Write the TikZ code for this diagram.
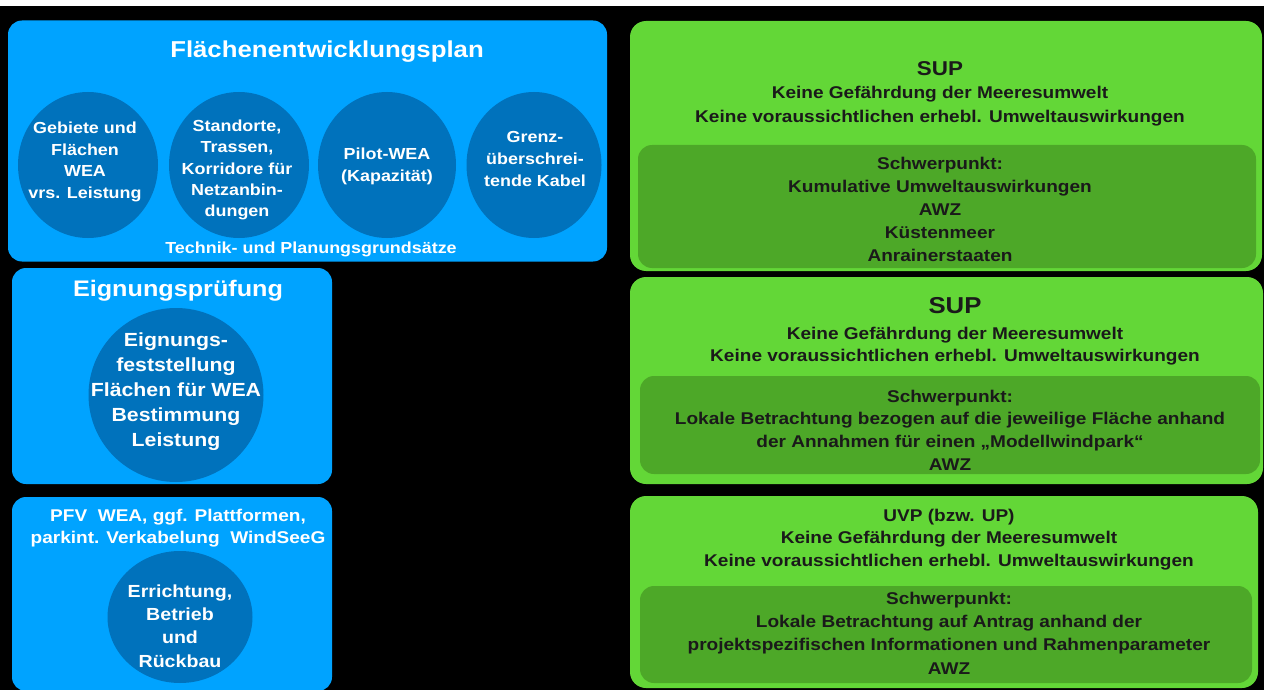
\documentclass[tikz,border=0pt]{standalone}
\usepackage{fontspec}
\setmainfont{Liberation Sans}[FakeStretch=1.12]
\usetikzlibrary{shapes.geometric}
\definecolor{bg}{RGB}{0,0,0}
\definecolor{fpblue}{RGB}{0,163,255}
\definecolor{fpdark}{RGB}{0,114,188}
\definecolor{glight}{RGB}{99,215,55}
\definecolor{gdark}{RGB}{77,168,40}
\definecolor{gtext}{RGB}{26,26,26}
\tikzset{
  bluebox/.style={draw=none, fill=fpblue, rounded corners=14pt, inner sep=0pt},
  greenbox/.style={draw=none, fill=glight, rounded corners=16pt, inner sep=0pt},
  greeninner/.style={draw=none, fill=gdark, rounded corners=14pt, inner sep=0pt},
  ell/.style={ellipse, draw=none, fill=fpdark, inner sep=0pt},
  wtxt/.style={text=white, align=center, inner sep=0pt},
  gtxt/.style={text=gtext, align=center, inner sep=0pt},
}
\newcommand{\fs}[2]{\fontsize{#1}{#2}\selectfont\bfseries}
\begin{document}
\begin{tikzpicture}[x=1pt,y=-1pt]
\useasboundingbox (0,0) rectangle (1264,690);
\fill[white] (0,0) rectangle (1264,690);
\fill[bg] (0,6) rectangle (1264,690);
% blue boxes
\node[bluebox, minimum width=599pt, minimum height=241pt] (fep) at (307.5,141) {};
\node[bluebox, minimum width=320pt, minimum height=216pt] (eig) at (172,376) {};
\node[bluebox, minimum width=320pt, minimum height=194pt] (pfv) at (172,594) {};
% ellipses
\node[ell, minimum width=140pt, minimum height=146pt] (e1) at (88,165) {};
\node[ell, minimum width=140pt, minimum height=146pt] (e2) at (239,165) {};
\node[ell, minimum width=138pt, minimum height=146pt] (e3) at (387,165) {};
\node[ell, minimum width=135pt, minimum height=146pt] (e4) at (534,165) {};
\node[ell, minimum width=175pt, minimum height=174pt] (c2) at (176,395) {};
\node[ell, minimum width=145pt, minimum height=132pt] (c3) at (180,617) {};
% blue texts
\node[wtxt, font=\fs{23}{28}] (t1) at (327,52) {Flächenentwicklungsplan};
\node[wtxt, font=\fs{16}{21.7}] (t1a) at (85,162) {Gebiete und\\Flächen\\WEA\\vrs. Leistung};
\node[wtxt, font=\fs{16}{21.2}] (t1b) at (237,170) {Standorte,\\Trassen,\\Korridore für\\Netzanbin-\\dungen};
\node[wtxt, font=\fs{16}{22}] (t1c) at (387,166) {Pilot-WEA\\(Kapazität)};
\node[wtxt, font=\fs{16}{22}] (t1d) at (535,159) {Grenz-\\überschrei-\\tende Kabel};
\node[wtxt, font=\fs{16}{20}] (t1e) at (311,249) {Technik- und Planungsgrundsätze};
\node[wtxt, font=\fs{22.5}{27}] (t2) at (178,291) {Eignungsprüfung};
\node[wtxt, font=\fs{19}{25}] (t2a) at (176,392) {Eignungs-\\feststellung\\Flächen für WEA\\Bestimmung\\Leistung};
\node[wtxt, font=\fs{17}{22}] (t3) at (178,528) {PFV\ \ WEA, ggf. Plattformen,\\parkint. Verkabelung\ \ WindSeeG};
\node[wtxt, font=\fs{17.5}{23.3}] (t3a) at (180,626) {Errichtung,\\Betrieb\\und\\Rückbau};
% green boxes
\node[greenbox, minimum width=632pt, minimum height=250pt] (g1) at (946,146) {};
\node[greeninner, minimum width=618pt, minimum height=123pt] (g1i) at (947,206.5) {};
\node[greenbox, minimum width=633pt, minimum height=207pt] (g2) at (946.5,380.5) {};
\node[greeninner, minimum width=620pt, minimum height=98pt] (g2i) at (950,425) {};
\node[greenbox, minimum width=628pt, minimum height=192pt] (g3) at (944,592) {};
\node[greeninner, minimum width=612pt, minimum height=97pt] (g3i) at (946,634.5) {};
% green texts
\node[gtxt, font=\fs{20}{24}] (s1) at (940,69) {SUP};
\node[gtxt, font=\fs{17}{24}] (s1a) at (940,106) {Keine Gefährdung der Meeresumwelt\\Keine voraussichtlichen erhebl. Umweltauswirkungen};
\node[gtxt, font=\fs{17}{23}] (s1b) at (940,209) {Schwerpunkt:\\Kumulative Umweltauswirkungen\\AWZ\\Küstenmeer\\Anrainerstaaten};
\node[gtxt, font=\fs{23}{24}] (s2) at (955,306) {SUP};
\node[gtxt, font=\fs{17}{22}] (s2a) at (955,346) {Keine Gefährdung der Meeresumwelt\\Keine voraussichtlichen erhebl. Umweltauswirkungen};
\node[gtxt, font=\fs{17}{22.7}] (s2b) at (950,430) {Schwerpunkt:\\Lokale Betrachtung bezogen auf die jeweilige Fläche anhand\\der Annahmen für einen „Modellwindpark“\\AWZ};
\node[gtxt, font=\fs{17}{22.5}] (s3a) at (949,539.5) {UVP (bzw. UP)\\Keine Gefährdung der Meeresumwelt\\Keine voraussichtlichen erhebl. Umweltauswirkungen};
\node[gtxt, font=\fs{17}{23.3}] (s3b) at (949,633) {Schwerpunkt:\\Lokale Betrachtung auf Antrag anhand der\\projektspezifischen Informationen und Rahmenparameter\\AWZ};
\end{tikzpicture}
\end{document}
